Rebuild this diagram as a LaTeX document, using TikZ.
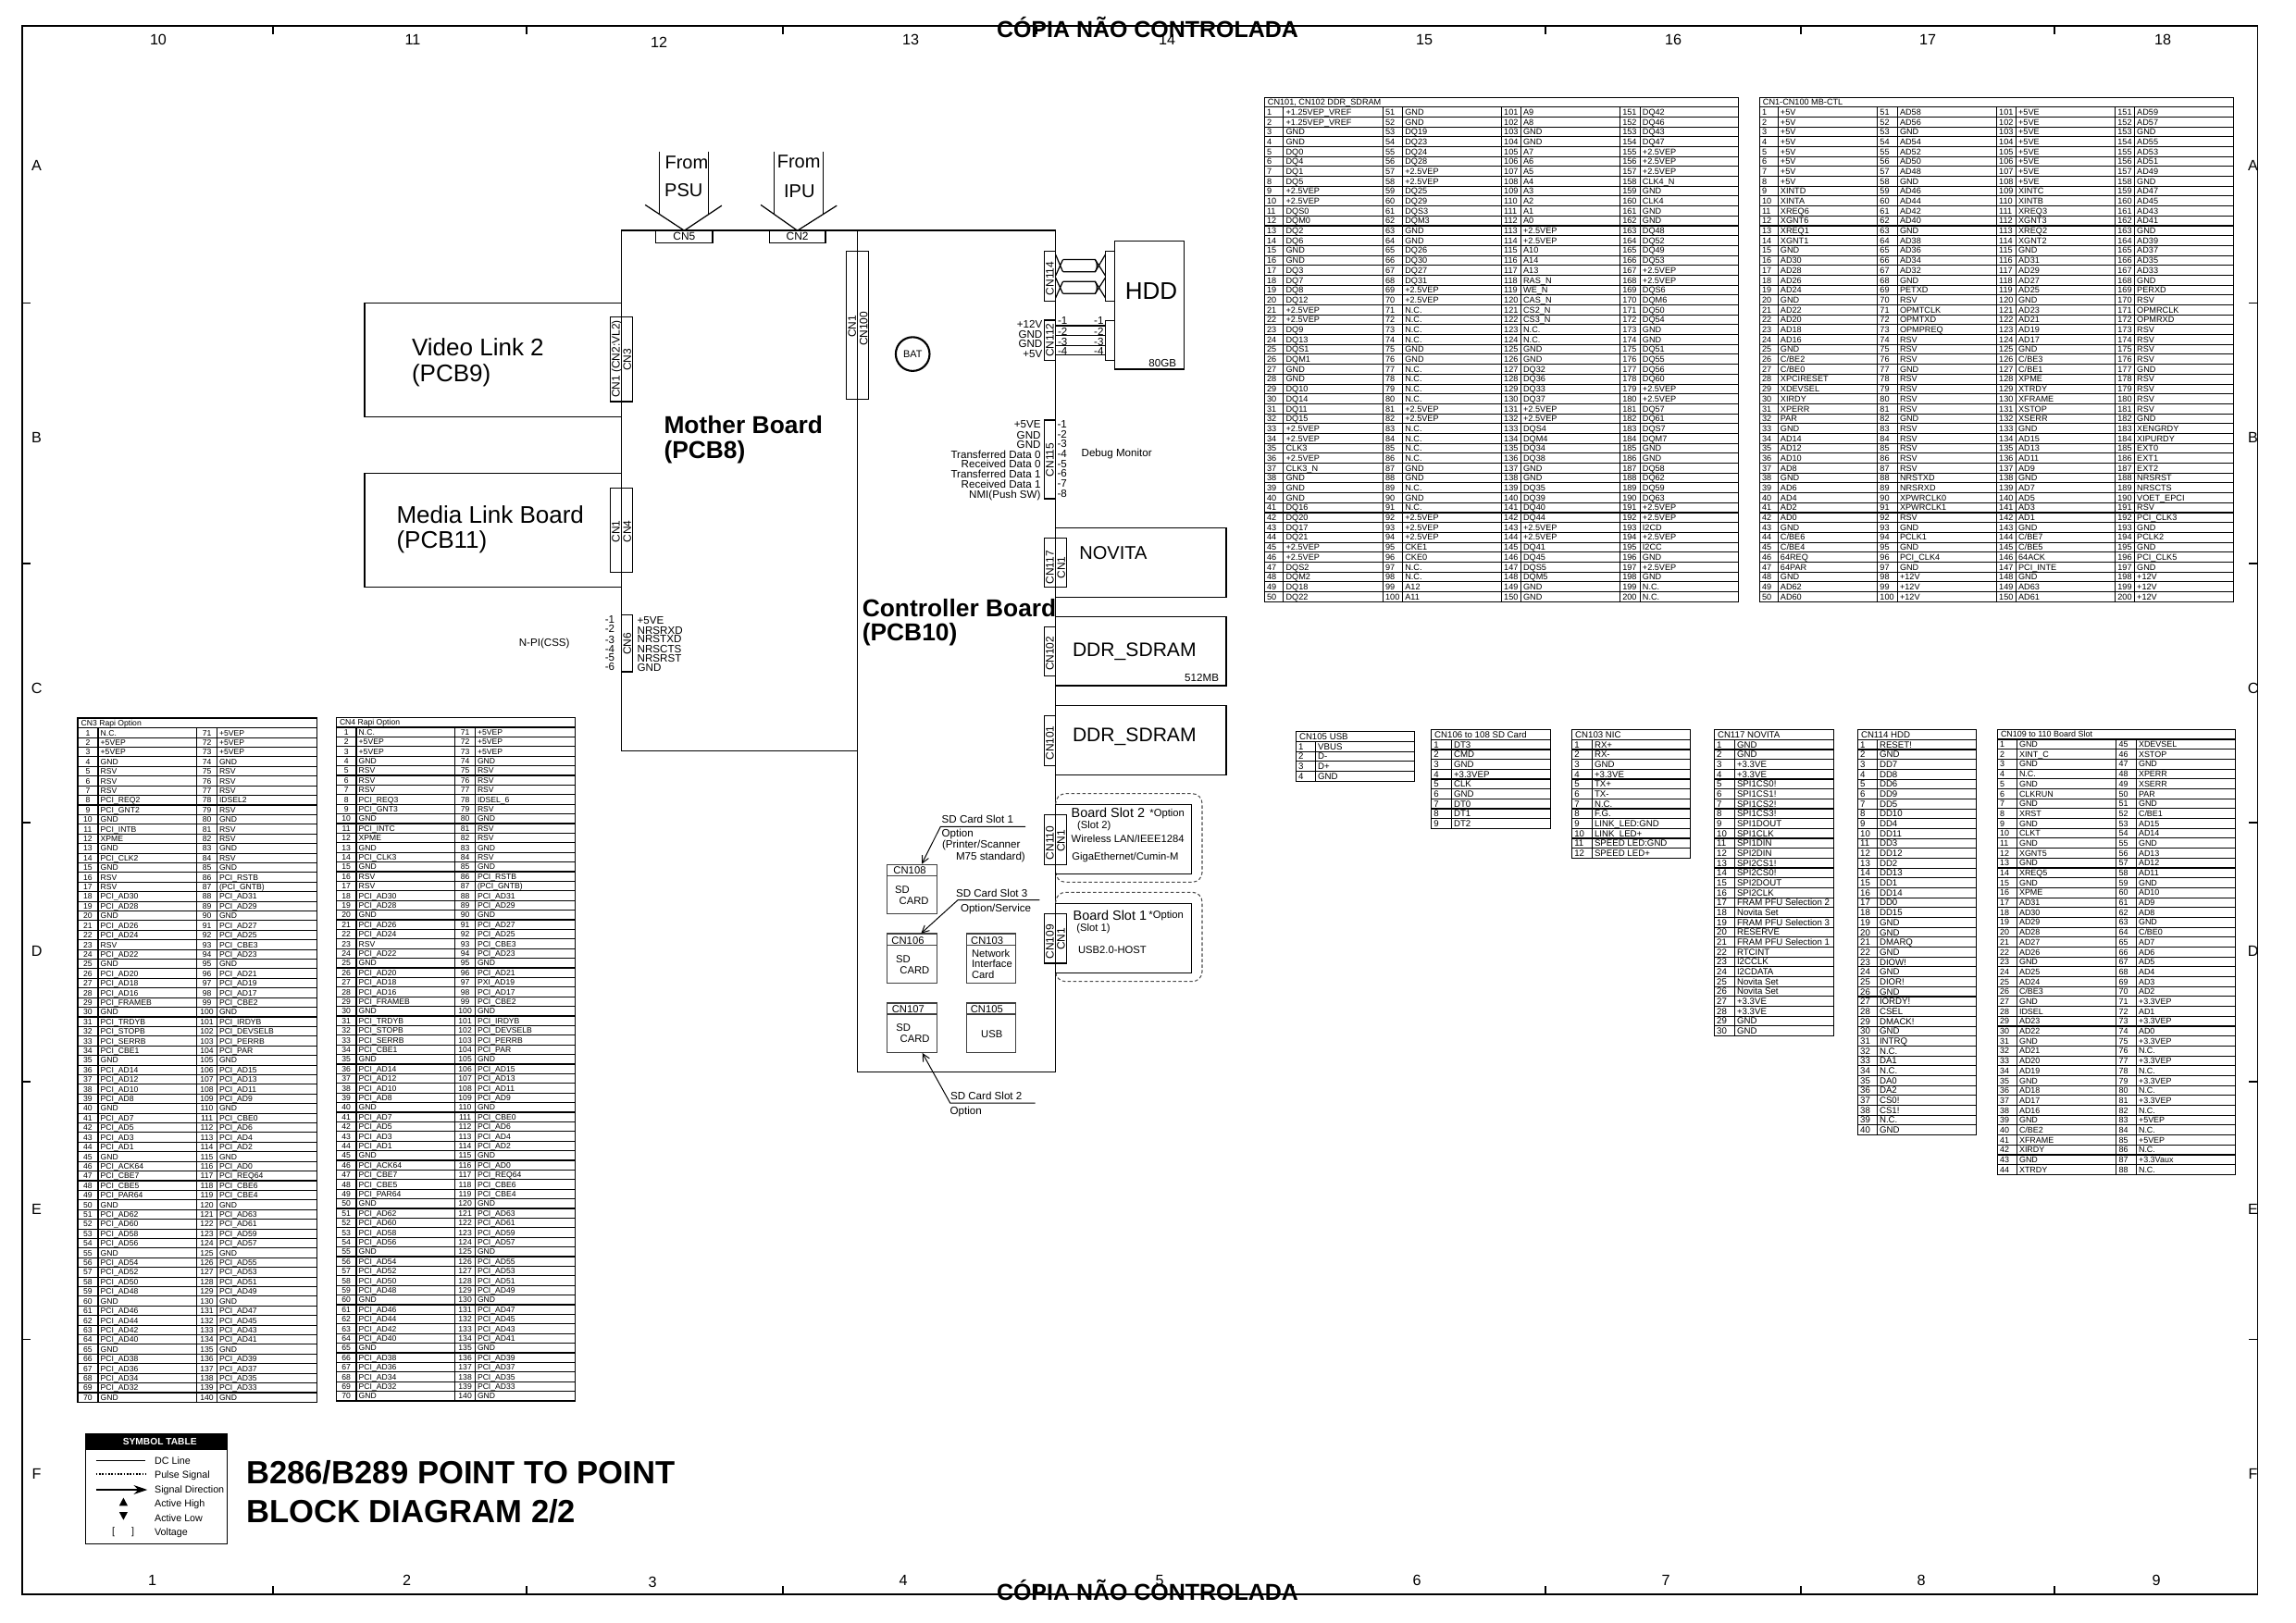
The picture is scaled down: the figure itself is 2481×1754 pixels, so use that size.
\documentclass[tikz,border=0pt]{standalone}
\usepackage{fontspec}
\setmainfont{Liberation Sans}
\usetikzlibrary{arrows.meta}

\tikzset{
  txt/.style={inner sep=0pt,font=\fontsize{#1}{#1}\selectfont,text height=.716*#1pt,text depth=0pt},
  txtb/.style={txt=#1,font=\fontsize{#1}{#1}\selectfont\bfseries},
  pinline/.style={line width=.3pt},
  pintext/.style={txt=2.6},
  numleft/.style={pintext,anchor=west,xshift=.6pt},
  numcentre/.style={pintext},
  blockline/.style={line width=.33pt},
  cardline/.style={line width=.4pt,draw=black!75},
  dashbox/.style={line width=.3pt,draw=black!70,dash pattern=on 1pt off .7pt,rounded corners=3pt},
  wire/.style={line width=.35pt},
  leader/.style={line width=.28pt,-{Straight Barb[length=2.2pt,width=2.2pt]}},
  cnv/.style={txt=3.4,rotate=90},
}

% name, x1, y1, x2, y2, text
\newcommand\blockat[7][]{%
  \pgfmathsetmacro\blockw{(#5-#3)*0.284528}%
  \pgfmathsetmacro\blockh{(#6-#4)*0.284528}%
  \node[blockline,draw,inner sep=0pt,outer sep=0pt,minimum width=\blockw pt,minimum height=\blockh pt,#1]
    (#2) at ({(#3+#5)/2},{(#4+#6)/2}) {#7};%
}

% one number column and its label column of a pin table
\newcommand\pincol[9][numleft]{%
  \foreach \lab [count=\pinno from #8] in {#9}{%
    \pgfmathsetmacro\ya{#6+(\pinno-#8)*#7}%
    \pgfmathsetmacro\yb{\ya+#7}%
    \pgfmathsetmacro\ym{\ya+.5*#7}%
    \draw[pinline] (#3,\ya) rectangle (#4,\yb) (#4,\ya) rectangle (#5,\yb);
    \node[#1] (#2-n\pinno) at ({#3},\ym) {\pinno};
    \node[pintext,anchor=west] (#2-l\pinno) at ({#4+2},\ym) {\lab};
  }%
}
% title row of a pin table
\newcommand\pintitle[6]{%
  \draw[pinline] (#2,#3) rectangle (#4,#5);
  \node[pintext,anchor=west] (#1-title) at ({#2+3},{(#3+#5)/2}) {#6};
}

\begin{document}
\begin{tikzpicture}[x=0.01cm,y=-0.01cm,>=Stealth]
\useasboundingbox (0,0) rectangle (2481,1754);
% sheet frame
\draw[line width=.55pt] (24,27.7) rectangle (2439.5,1723);
\foreach \tx in {295,569,846,1120,1397,1670,1946,2220}{
  \draw[line width=.3pt] (\tx,27.7) -- (\tx,37);
  \draw[line width=.3pt] (\tx,1714) -- (\tx,1723);
}
\foreach \ty in {327.5,609,889,1169,1447.5}{
  \draw[line width=.3pt] (24,\ty) -- (33,\ty);
  \draw[line width=.3pt] (2430,\ty) -- (2439.5,\ty);
}
\foreach \lab/\tx/\ty in {10/171/43,11/446/43,12/712/46,13/984/43,14/1261/43,15/1539/43,16/1808/43,17/2083/43,18/2337/43,
  1/164.6/1708,2/439.6/1708,3/705/1710,4/976/1708,5/1253/1708,6/1531/1708,7/1800/1708,8/2076/1708,9/2330/1708}{
  \node[txt=4.6] (zone\lab) at (\tx,\ty) {\lab};
}
\foreach \lab/\ty in {A/178.8,B/473,C/743.5,D/1028,E/1306.7,F/1593}{
  \node[txt=4.6] (zoneL\lab) at (39.6,\ty) {\lab};
  \node[txt=4.6] (zoneR\lab) at (2434.6,\ty) {\lab};
}
\node[txtb=7.1] (stamptop) at (1240,32) {CÓPIA NÃO CONTROLADA};
\node[txtb=7.1] (stampbot) at (1240,1721) {CÓPIA NÃO CONTROLADA};

% boards
\blockat{motherb}{671.5}{249.2}{926.2}{811.3}{}
\blockat{ctlb}{926.2}{249.2}{1140.6}{1158.3}{}
\node[txtb=7.5,anchor=west] (mothertxt) at (716.8,459) {Mother Board};
\node[txtb=7.5,anchor=west] (mothertxtb) at (716.8,486.3) {(PCB8)};
\node[txtb=7.5,anchor=west] (ctltxt) at (931.1,657.3) {Controller Board};
\node[txtb=7.5,anchor=west] (ctltxtb) at (931.1,683.5) {(PCB10)};

% from PSU, from IPU
\blockat[txt=3.4]{cn5}{708.8}{249.2}{770}{262.2}{CN5}
\blockat[txt=3.4]{cn2}{831.3}{249.2}{892}{262.2}{CN2}
\draw[wire] (712.5,163.5) -- (712.5,231.6) (765.2,163.5) -- (765.2,231.6);
\draw[wire] (697.2,221.4) -- (cn5.north) -- (779.9,222.2);
\draw[wire] (836.2,163.5) -- (836.2,231.6) (889.5,163.5) -- (889.5,231.6);
\draw[wire] (822.1,221.4) -- (cn2.north) -- (904.2,222.2);
\node[txt=5.7] (psuone) at (741.9,175.3) {From};
\node[txt=5.7] (psutwo) at (738.8,205) {PSU};
\node[txt=5.7] (ipuone) at (863.2,174.5) {From};
\node[txt=5.7] (iputwo) at (863.8,206) {IPU};

% video link, media link
\blockat{videob}{394.1}{327.6}{671.5}{450.4}{}
\node[txt=7.4,anchor=west] (videotxt) at (444.3,375.3) {Video Link 2};
\node[txt=7.4,anchor=west] (videotxtb) at (444.3,403) {(PCB9)};
\draw[blockline] (659.2,342.2) rectangle (683.7,434);
\node[cnv] (cn1vl) at (665.4,388) {CN1 (CN2:VL2)};
\node[cnv] (cn3) at (677.6,388.8) {CN3};
\blockat{mediab}{394.1}{511.2}{671.5}{634.5}{}
\node[txt=7.4,anchor=west] (mediatxt) at (427.8,556) {Media Link Board};
\node[txt=7.4,anchor=west] (mediatxtb) at (427.8,582.7) {(PCB11)};
\draw[blockline] (659.2,527.6) rectangle (683.7,618.6);
\node[cnv] (cn1ml) at (665.4,574.5) {CN1};
\node[cnv] (cn4) at (677.6,574.5) {CN4};

% N-PI connector
\blockat{cn6}{671.5}{664.7}{683.7}{725.9}{}
\node[cnv] (cn6txt) at (677.6,695.7) {CN6};
\foreach \lab/\ty in {-1/669.2,-2/679.8,-3/691.6,-4/701,-5/710,-6/720.2}{
  \node[txt=3.3,anchor=east] (cn6pin\lab) at (664.8,\ty) {\lab};
}
\foreach \lab/\ty in {+5VE/670,NRSRXD/681,NRSTXD/690.8,NRSCTS/701,NRSRST/711.2,GND/721.4}{
  \node[txt=3.3,anchor=west] (cn6\lab) at (688,\ty) {\lab};
}
\node[txt=3.3] (npi) at (588.2,694) {N-PI(CSS)};

% mother to controller
\draw[blockline] (914.6,271.2) rectangle (938.5,431.6);
\node[cnv] (cn1mb) at (920.7,352.9) {CN1};
\node[cnv] (cn100) at (933,355.3) {CN100};
\node[draw,circle,line width=.6pt,minimum size=10.4pt,inner sep=0pt,txt=3.1] (bat) at (986.2,382.6) {BAT};

% HDD
\blockat{cn114}{1128.3}{271.2}{1140.6}{325.1}{}
\node[cnv] (cn114txt) at (1134.4,301) {CN114};
\blockat{hdd}{1204.2}{260.2}{1279.6}{399}{}
\node[txt=7.4] (hddtxt) at (1244,314.5) {HDD};
\node[txt=3.3] (hddsize) at (1256.3,392) {80GB};
\blockat{hddsig}{1194.5}{271.2}{1204.2}{325.1}{}
\draw[wire] (1148.5,280.6) -- (1183.4,280.6) .. controls (1186,284) and (1186,290) .. (1183.4,293.7) -- (1148.5,293.7);
\draw[wire] (1148.5,304.3) -- (1183.4,304.3) .. controls (1186,308) and (1186,314) .. (1183.4,317.3) -- (1148.5,317.3);
\draw[wire] (1140.6,275) -- (1148.5,293.7) (1140.6,298) -- (1148.5,280.6);
\draw[wire] (1140.6,300) -- (1148.5,317.3) (1140.6,322) -- (1148.5,304.3);
\draw[wire] (1183.4,293.7) -- (1194.5,275) (1183.4,280.6) -- (1194.5,298);
\draw[wire] (1183.4,304.3) -- (1194.5,322) (1183.4,317.3) -- (1194.5,300);
\blockat{cn112}{1128.3}{346}{1140.6}{389.2}{}
\node[cnv] (cn112txt) at (1134.4,367.6) {CN112};
\blockat{hddpwr}{1194.5}{346.7}{1204.2}{389.2}{}
\foreach \wy in {352,362.2,373.3,383.5}{
  \draw[wire] (cn112.east |- 0,\wy) -- (hddpwr.west |- 0,\wy);
}
\foreach \lab/\ty in {1/346.7,2/358.6,3/369.2,4/379.4}{
  \node[txt=3.3,anchor=west] (cn112pin\lab) at (1142.4,\ty) {-\lab};
  \node[txt=3.3,anchor=east] (hddpin\lab) at (1193.2,\ty) {-\lab};
}
\node[txt=3.3,anchor=east] (cn112a) at (1127,350.4) {+12V};
\node[txt=3.3,anchor=east] (cn112b) at (1127,361.4) {GND};
\node[txt=3.3,anchor=east] (cn112c) at (1127,371.2) {GND};
\node[txt=3.3,anchor=east] (cn112d) at (1127,382.2) {+5V};

% debug monitor
\blockat{cn115}{1128.3}{454}{1140.6}{539}{}
\node[cnv] (cn115txt) at (1134.4,497) {CN115};
\foreach \lab/\ty in {1/458.2,2/469.2,3/479.4,4/490.4,5/501.4,6/511.6,7/522.2,8/533.3}{
  \node[txt=3.3,anchor=west] (cn115pin\lab) at (1141.8,\ty) {-\lab};
}
\node[txt=3.3,anchor=east] (dbga) at (1125.2,458.6) {+5VE};
\node[txt=3.3,anchor=east] (dbgb) at (1125.2,470) {GND};
\node[txt=3.3,anchor=east] (dbgc) at (1125.2,480.2) {GND};
\node[txt=3.3,anchor=east] (dbgd) at (1125.2,491.2) {Transferred Data 0};
\node[txt=3.3,anchor=east] (dbge) at (1125.2,501.8) {Received Data 0};
\node[txt=3.3,anchor=east] (dbgf) at (1125.2,512.4) {Transferred Data 1};
\node[txt=3.3,anchor=east] (dbgg) at (1125.2,523) {Received Data 1};
\node[txt=3.3,anchor=east] (dbgh) at (1125.2,534) {NMI(Push SW)};
\node[txt=3.3] (dbgtxt) at (1206.7,489.2) {Debug Monitor};

% novita, memory
\blockat{novita}{1140.6}{570.4}{1324.9}{645.5}{}
\node[txt=5.7,anchor=west] (novitatxt) at (1165.7,597) {NOVITA};
\draw[blockline] (1128.3,581.4) rectangle (1152.8,634.9);
\node[cnv] (cn117) at (1134.4,613.3) {CN117};
\node[cnv] (cn1nov) at (1146.7,613.3) {CN1};
\blockat{ddra}{1140.6}{666.3}{1324.9}{741}{}
\node[txt=6,anchor=west] (ddratxt) at (1158.3,702) {DDR\_SDRAM};
\node[txt=3.3] (ddrsize) at (1298.6,732.4) {512MB};
\blockat{cn102}{1128.3}{677.8}{1140.6}{730.4}{}
\node[cnv] (cn102txt) at (1134.4,706.3) {CN102};
\blockat{ddrb}{1140.6}{762.2}{1324.9}{837.3}{}
\node[txt=6,anchor=west] (ddrbtxt) at (1158.3,794) {DDR\_SDRAM};
\blockat{cn101}{1128.3}{773.3}{1140.6}{827.3}{}
\node[cnv] (cn101txt) at (1134.4,803) {CN101};

% board slots
\draw[dashbox] (1140.7,869.3) -- (1140.7,857.7) -- (1299,857.7) -- (1299,953.3) -- (1140.7,953.3) -- (1140.7,945);
\blockat{slottwo}{1140.6}{869.3}{1287.3}{944.3}{}
\node[txt=4.1,anchor=west] (slottwoa) at (1157,878.3) {Board Slot 2};
\node[txt=3.2,anchor=west] (slottwob) at (1241.7,878.3) {*Option};
\node[txt=3.2,anchor=west] (slottwoc) at (1163.3,891.3) {(Slot 2)};
\node[txt=3.2,anchor=west] (slottwod) at (1157,906.3) {Wireless LAN/IEEE1284};
\node[txt=3.2,anchor=west] (slottwoe) at (1157.7,925.3) {GigaEthernet/Cumin-M};
\draw[blockline] (1128.3,880.7) rectangle (1152.3,934.3);
\node[cnv] (cn110) at (1134.3,911) {CN110};
\node[cnv] (cn1two) at (1146.3,908.7) {CN1};
\draw[dashbox] (1140.7,976.3) -- (1140.7,964.3) -- (1299,964.3) -- (1299,1060.7) -- (1140.7,1060.7) -- (1140.7,1051.3);
\blockat{slotone}{1140.6}{976.3}{1287.3}{1051.3}{}
\node[txt=4.1,anchor=west] (slotonea) at (1159,989.3) {Board Slot 1};
\node[txt=3.2,anchor=west] (slotoneb) at (1240.7,988.3) {*Option};
\node[txt=3.2,anchor=west] (slotonec) at (1162.7,1002.3) {(Slot 1)};
\node[txt=3.2,anchor=west] (slotoned) at (1164.3,1026.3) {USB2.0-HOST};
\draw[blockline] (1128.3,987.7) rectangle (1152.3,1041);
\node[cnv] (cn109) at (1134.3,1017.7) {CN109};
\node[cnv] (cn1one) at (1146.3,1015) {CN1};

% cards
\blockat[cardline]{cn108}{958.7}{934.3}{1012.3}{987.3}{}
\draw[cardline] (958.7,946.3) -- (1012.3,946.3);
\node[txt=3.2] (cn108txt) at (983,940.3) {CN108};
\node[txt=3.2,anchor=west] (cardaa) at (966.3,961.3) {SD};
\node[txt=3.2,anchor=west] (cardab) at (971,973.3) {CARD};
\blockat[cardline]{cn106}{958.7}{1009}{1012.3}{1062.3}{}
\draw[cardline] (958.7,1021.3) -- (1012.3,1021.3);
\node[txt=3.2] (cn106txt) at (981,1016) {CN106};
\node[txt=3.2,anchor=west] (cardba) at (967.3,1036) {SD};
\node[txt=3.2,anchor=west] (cardbb) at (971.7,1048) {CARD};
\blockat[cardline]{cn103}{1044.3}{1009}{1097.3}{1062.3}{}
\draw[cardline] (1044.3,1021.3) -- (1097.3,1021.3);
\node[txt=3.2] (cn103txt) at (1066.7,1016) {CN103};
\node[txt=3.2,anchor=west] (nica) at (1049.3,1030.3) {Network};
\node[txt=3.2,anchor=west] (nicb) at (1049.3,1041.7) {Interface};
\node[txt=3.2,anchor=west] (nicc) at (1049.3,1053.3) {Card};
\blockat[cardline]{cn107}{958.7}{1084}{1012.3}{1137.3}{}
\draw[cardline] (958.7,1096) -- (1012.3,1096);
\node[txt=3.2] (cn107txt) at (981.3,1090) {CN107};
\node[txt=3.2,anchor=west] (cardca) at (967.7,1110.3) {SD};
\node[txt=3.2,anchor=west] (cardcb) at (972,1122.3) {CARD};
\blockat[cardline]{cn105}{1044.3}{1084}{1097.3}{1137.3}{}
\draw[cardline] (1044.3,1096) -- (1097.3,1096);
\node[txt=3.2] (cn105txt) at (1066.3,1090) {CN105};
\node[txt=3.2] (usbtxt) at (1071.7,1117.3) {USB};

% card slot leaders
\coordinate (lonea) at (1108,893.3);
\coordinate (loneb) at (1016.3,893.3);
\coordinate (lonec) at (996,933.7);
\draw[leader] (lonea) -- (loneb) -- (lonec);
\node[txt=3.3,anchor=west] (lonetxta) at (1017,885.3) {SD Card Slot 1};
\node[txt=3.3,anchor=west] (lonetxtb) at (1017,900.3) {Option};
\node[txt=3.3,anchor=west] (lonetxtc) at (1017.3,912.3) {(Printer/Scanner};
\node[txt=3.3,anchor=west] (lonetxtd) at (1032.3,925.3) {M75 standard)};
\coordinate (lthra) at (1123.3,972.7);
\coordinate (lthrb) at (1035,972.7);
\coordinate (lthrc) at (995.3,1008.7);
\draw[leader] (lthra) -- (lthrb) -- (lthrc);
\node[txt=3.3,anchor=west] (lthrtxta) at (1032.3,965.3) {SD Card Slot 3};
\node[txt=3.3,anchor=west] (lthrtxtb) at (1037.3,981.3) {Option/Service};
\coordinate (ltwoa) at (1118.7,1192);
\coordinate (ltwob) at (1026.7,1192);
\coordinate (ltwoc) at (996.7,1138);
\draw[leader] (ltwoa) -- (ltwob) -- (ltwoc);
\node[txt=3.3,anchor=west] (ltwotxta) at (1026.3,1184.3) {SD Card Slot 2};
\node[txt=3.3,anchor=west] (ltwotxtb) at (1026,1200.3) {Option};

% CN101, CN102 table
\pintitle{ddrt}{1366.2}{105.4}{1878.2}{115.7}{CN101, CN102 DDR\_SDRAM}
\pincol{ddrt}{1366.2}{1386.9}{1494.3}{115.7}{10.69}{1}{+1.25VEP\_VREF,+1.25VEP\_VREF,GND,GND,DQ0,DQ4,DQ1,DQ5,+2.5VEP,+2.5VEP,DQS0,DQM0,DQ2,DQ6,GND,GND,DQ3,DQ7,DQ8,DQ12,+2.5VEP,+2.5VEP,DQ9,DQ13,DQS1,DQM1,GND,GND,DQ10,DQ14,DQ11,DQ15,+2.5VEP,+2.5VEP,CLK3,+2.5VEP,CLK3\_N,GND,GND,GND,DQ16,DQ20,DQ17,DQ21,+2.5VEP,+2.5VEP,DQS2,DQM2,DQ18,DQ22}
\pincol{ddrt}{1494.3}{1515.6}{1622.4}{115.7}{10.69}{51}{GND,GND,DQ19,DQ23,DQ24,DQ28,+2.5VEP,+2.5VEP,DQ25,DQ29,DQS3,DQM3,GND,GND,DQ26,DQ30,DQ27,DQ31,+2.5VEP,+2.5VEP,N.C.,N.C.,N.C.,N.C.,GND,GND,N.C.,N.C.,N.C.,N.C.,+2.5VEP,+2.5VEP,N.C.,N.C.,N.C.,N.C.,GND,GND,N.C.,GND,N.C.,+2.5VEP,+2.5VEP,+2.5VEP,CKE1,CKE0,N.C.,N.C.,A12,A11}
\pincol{ddrt}{1622.4}{1643.4}{1750.5}{115.7}{10.69}{101}{A9,A8,GND,GND,A7,A6,A5,A4,A3,A2,A1,A0,+2.5VEP,+2.5VEP,A10,A14,A13,RAS\_N,WE\_N,CAS\_N,CS2\_N,CS3\_N,N.C.,N.C.,GND,GND,DQ32,DQ36,DQ33,DQ37,+2.5VEP,+2.5VEP,DQS4,DQM4,DQ34,DQ38,GND,GND,DQ35,DQ39,DQ40,DQ44,+2.5VEP,+2.5VEP,DQ41,DQ45,DQS5,DQM5,GND,GND}
\pincol{ddrt}{1750.5}{1772.2}{1878.2}{115.7}{10.69}{151}{DQ42,DQ46,DQ43,DQ47,+2.5VEP,+2.5VEP,+2.5VEP,CLK4\_N,GND,CLK4,GND,GND,DQ48,DQ52,DQ49,DQ53,+2.5VEP,+2.5VEP,DQS6,DQM6,DQ50,DQ54,GND,GND,DQ51,DQ55,DQ56,DQ60,+2.5VEP,+2.5VEP,DQ57,DQ61,DQS7,DQM7,GND,GND,DQ58,DQ62,DQ59,DQ63,+2.5VEP,+2.5VEP,I2CD,+2.5VEP,I2CC,GND,+2.5VEP,GND,N.C.,N.C.}

% CN1-CN100 table
\pintitle{mbt}{1901.2}{105.4}{2413.2}{115.7}{CN1-CN100 MB-CTL}
\pincol{mbt}{1901.2}{1921.2}{2028.6}{115.7}{10.69}{1}{+5V,+5V,+5V,+5V,+5V,+5V,+5V,+5V,XINTD,XINTA,XREQ6,XGNT6,XREQ1,XGNT1,GND,AD30,AD28,AD26,AD24,GND,AD22,AD20,AD18,AD16,GND,C/BE2,C/BE0,XPCIRESET,XDEVSEL,XIRDY,XPERR,PAR,GND,AD14,AD12,AD10,AD8,GND,AD6,AD4,AD2,AD0,GND,C/BE6,C/BE4,64REQ,64PAR,GND,AD62,AD60}
\pincol{mbt}{2028.6}{2050.3}{2157.4}{115.7}{10.69}{51}{AD58,AD56,GND,AD54,AD52,AD50,AD48,GND,AD46,AD44,AD42,AD40,GND,AD38,AD36,AD34,AD32,GND,PETXD,RSV,OPMTCLK,OPMTXD,OPMPREQ,RSV,RSV,RSV,GND,RSV,RSV,RSV,RSV,GND,RSV,RSV,RSV,RSV,RSV,NRSTXD,NRSRXD,XPWRCLK0,XPWRCLK1,RSV,GND,PCLK1,GND,PCI\_CLK4,GND,+12V,+12V,+12V}
\pincol{mbt}{2157.4}{2178.4}{2285.5}{115.7}{10.69}{101}{+5VE,+5VE,+5VE,+5VE,+5VE,+5VE,+5VE,+5VE,XINTC,XINTB,XREQ3,XGNT3,XREQ2,XGNT2,GND,AD31,AD29,AD27,AD25,GND,AD23,AD21,AD19,AD17,GND,C/BE3,C/BE1,XPME,XTRDY,XFRAME,XSTOP,XSERR,GND,AD15,AD13,AD11,AD9,GND,AD7,AD5,AD3,AD1,GND,C/BE7,C/BE5,64ACK,PCI\_INTE,GND,AD63,AD61}
\pincol{mbt}{2285.5}{2306.5}{2413.2}{115.7}{10.69}{151}{AD59,AD57,GND,AD55,AD53,AD51,AD49,GND,AD47,AD45,AD43,AD41,GND,AD39,AD37,AD35,AD33,GND,PERXD,RSV,OPMRCLK,OPMRXD,RSV,RSV,RSV,RSV,GND,RSV,RSV,RSV,RSV,GND,XENGRDY,XIPURDY,EXT0,EXT1,EXT2,NRSRST,NRSCTS,VOET\_EPCI,RSV,PCI\_CLK3,GND,PCLK2,GND,PCI\_CLK5,GND,+12V,+12V,+12V}

% CN3 table
\begin{scope}[pintext/.style={txt=2.45},numcentre/.style={pintext,xshift=3.1pt}]
\pintitle{rapc}{84}{776}{342.7}{786.7}{CN3 Rapi Option}
\pincol[numcentre]{rapc}{84}{106}{212.7}{786.7}{10.41}{1}{N.C.,+5VEP,+5VEP,GND,RSV,RSV,RSV,PCI\_REQ2,PCI\_GNT2,GND,PCI\_INTB,XPME,GND,PCI\_CLK2,GND,RSV,RSV,PCI\_AD30,PCI\_AD28,GND,PCI\_AD26,PCI\_AD24,RSV,PCI\_AD22,GND,PCI\_AD20,PCI\_AD18,PCI\_AD16,PCI\_FRAMEB,GND,PCI\_TRDYB,PCI\_STOPB,PCI\_SERRB,PCI\_CBE1,GND,PCI\_AD14,PCI\_AD12,PCI\_AD10,PCI\_AD8,GND,PCI\_AD7,PCI\_AD5,PCI\_AD3,PCI\_AD1,GND,PCI\_ACK64,PCI\_CBE7,PCI\_CBE5,PCI\_PAR64,GND,PCI\_AD62,PCI\_AD60,PCI\_AD58,PCI\_AD56,GND,PCI\_AD54,PCI\_AD52,PCI\_AD50,PCI\_AD48,GND,PCI\_AD46,PCI\_AD44,PCI\_AD42,PCI\_AD40,GND,PCI\_AD38,PCI\_AD36,PCI\_AD34,PCI\_AD32,GND}
\pincol[numcentre]{rapc}{212.7}{234.3}{342.7}{786.7}{10.41}{71}{+5VEP,+5VEP,+5VEP,GND,RSV,RSV,RSV,IDSEL2,RSV,GND,RSV,RSV,GND,RSV,GND,PCI\_RSTB,{(PCI\_GNTB)},PCI\_AD31,PCI\_AD29,GND,PCI\_AD27,PCI\_AD25,PCI\_CBE3,PCI\_AD23,GND,PCI\_AD21,PCI\_AD19,PCI\_AD17,PCI\_CBE2,GND,PCI\_IRDYB,PCI\_DEVSELB,PCI\_PERRB,PCI\_PAR,GND,PCI\_AD15,PCI\_AD13,PCI\_AD11,PCI\_AD9,GND,PCI\_CBE0,PCI\_AD6,PCI\_AD4,PCI\_AD2,GND,PCI\_AD0,PCI\_REQ64,PCI\_CBE6,PCI\_CBE4,GND,PCI\_AD63,PCI\_AD61,PCI\_AD59,PCI\_AD57,GND,PCI\_AD55,PCI\_AD53,PCI\_AD51,PCI\_AD49,GND,PCI\_AD47,PCI\_AD45,PCI\_AD43,PCI\_AD41,GND,PCI\_AD39,PCI\_AD37,PCI\_AD35,PCI\_AD33,GND}
\end{scope}

% CN4 table
\begin{scope}[pintext/.style={txt=2.45},numcentre/.style={pintext,xshift=3.1pt}]
\pintitle{rapd}{363.3}{775.3}{621.7}{786}{CN4 Rapi Option}
\pincol[numcentre]{rapd}{363.3}{385}{491.7}{786}{10.4}{1}{N.C.,+5VEP,+5VEP,GND,RSV,RSV,RSV,PCI\_REQ3,PCI\_GNT3,GND,PCI\_INTC,XPME,GND,PCI\_CLK3,GND,RSV,RSV,PCI\_AD30,PCI\_AD28,GND,PCI\_AD26,PCI\_AD24,RSV,PCI\_AD22,GND,PCI\_AD20,PCI\_AD18,PCI\_AD16,PCI\_FRAMEB,GND,PCI\_TRDYB,PCI\_STOPB,PCI\_SERRB,PCI\_CBE1,GND,PCI\_AD14,PCI\_AD12,PCI\_AD10,PCI\_AD8,GND,PCI\_AD7,PCI\_AD5,PCI\_AD3,PCI\_AD1,GND,PCI\_ACK64,PCI\_CBE7,PCI\_CBE5,PCI\_PAR64,GND,PCI\_AD62,PCI\_AD60,PCI\_AD58,PCI\_AD56,GND,PCI\_AD54,PCI\_AD52,PCI\_AD50,PCI\_AD48,GND,PCI\_AD46,PCI\_AD44,PCI\_AD42,PCI\_AD40,GND,PCI\_AD38,PCI\_AD36,PCI\_AD34,PCI\_AD32,GND}
\pincol[numcentre]{rapd}{491.7}{513.3}{621.7}{786}{10.4}{71}{+5VEP,+5VEP,+5VEP,GND,RSV,RSV,RSV,IDSEL\_6,RSV,GND,RSV,RSV,GND,RSV,GND,PCI\_RSTB,{(PCI\_GNTB)},PCI\_AD31,PCI\_AD29,GND,PCI\_AD27,PCI\_AD25,PCI\_CBE3,PCI\_AD23,GND,PCI\_AD21,PXI\_AD19,PCI\_AD17,PCI\_CBE2,GND,PCI\_IRDYB,PCI\_DEVSELB,PCI\_PERRB,PCI\_PAR,GND,PCI\_AD15,PCI\_AD13,PCI\_AD11,PCI\_AD9,GND,PCI\_CBE0,PCI\_AD6,PCI\_AD4,PCI\_AD2,GND,PCI\_AD0,PCI\_REQ64,PCI\_CBE6,PCI\_CBE4,GND,PCI\_AD63,PCI\_AD61,PCI\_AD59,PCI\_AD57,GND,PCI\_AD55,PCI\_AD53,PCI\_AD51,PCI\_AD49,GND,PCI\_AD47,PCI\_AD45,PCI\_AD43,PCI\_AD41,GND,PCI\_AD39,PCI\_AD37,PCI\_AD35,PCI\_AD33,GND}
\end{scope}

% connector tables, middle row
\begin{scope}[pintext/.style={txt=2.75}]
\pintitle{usbt}{1400.3}{790.3}{1528.5}{801.3}{CN105 USB}
\pincol{usbt}{1400.3}{1421.4}{1528.5}{801.3}{10.75}{1}{VBUS,D-,D+,GND}
\pintitle{sdt}{1546.5}{788.3}{1675.5}{799.3}{CN106 to 108 SD Card}
\pincol{sdt}{1546.5}{1568.3}{1675.5}{799.3}{10.67}{1}{DT3,CMD,GND,+3.3VEP,CLK,GND,DT0,DT1,DT2}
\pintitle{nict}{1698.5}{788.3}{1826.7}{799.3}{CN103 NIC}
\pincol{nict}{1698.5}{1720.3}{1826.7}{799.3}{10.67}{1}{RX+,RX-,GND,+3.3VE,TX+,TX-,N.C.,F.G.,LINK\_LED:GND,LINK\_LED+,SPEED LED:GND,SPEED LED+}
\pintitle{novt}{1852.3}{788.3}{1981.7}{799.3}{CN117 NOVITA}
\pincol{novt}{1852.3}{1874.3}{1981.7}{799.3}{10.67}{1}{GND,GND,+3.3VE,+3.3VE,SPI1CS0!,SPI1CS1!,SPI1CS2!,SPI1CS3!,SPI1DOUT,SPI1CLK,SPI1DIN,SPI2DIN,SPI2CS1!,SPI2CS0!,SPI2DOUT,SPI2CLK,FRAM PFU Selection 2,Novita Set,FRAM PFU Selection 3,RESERVE,FRAM PFU Selection 1,RTCINT,I2CCLK,I2CDATA,Novita Set,Novita Set,+3.3VE,+3.3VE,GND,GND}
\pintitle{hddt}{2007.3}{788.3}{2135.7}{799.3}{CN114 HDD}
\pincol{hddt}{2007.3}{2028.3}{2135.7}{799.3}{10.68}{1}{RESET!,GND,DD7,DD8,DD6,DD9,DD5,DD10,DD4,DD11,DD3,DD12,DD2,DD13,DD1,DD14,DD0,DD15,GND,GND,DMARQ,GND,DIOW!,GND,DIOR!,GND,IORDY!,CSEL,DMACK!,GND,INTRQ,N.C.,DA1,N.C.,DA0,DA2,CS0!,CS1!,N.C.,GND}
\end{scope}

% CN109 to 110 table
\begin{scope}[pintext/.style={txt=2.55}]
\pintitle{slott}{2158.3}{788.3}{2415.7}{799}{CN109 to 110 Board Slot}
\pincol{slott}{2158.3}{2179.3}{2286.7}{799}{10.69}{1}{GND,XINT\_C,GND,N.C.,GND,CLKRUN,GND,XRST,GND,CLKT,GND,XGNT5,GND,XREQ5,GND,XPME,AD31,AD30,AD29,AD28,AD27,AD26,GND,AD25,AD24,C/BE3,GND,IDSEL,AD23,AD22,GND,AD21,AD20,AD19,GND,AD18,AD17,AD16,GND,C/BE2,XFRAME,XIRDY,GND,XTRDY}
\pincol{slott}{2286.7}{2308.3}{2415.7}{799}{10.69}{45}{XDEVSEL,XSTOP,GND,XPERR,XSERR,PAR,GND,C/BE1,AD15,AD14,GND,AD13,AD12,AD11,GND,AD10,AD9,AD8,GND,C/BE0,AD7,AD6,AD5,AD4,AD3,AD2,+3.3VEP,AD1,+3.3VEP,AD0,+3.3VEP,N.C.,+3.3VEP,N.C.,+3.3VEP,N.C.,+3.3VEP,N.C.,+5VEP,N.C.,+5VEP,N.C.,+3.3Vaux,N.C.}
\end{scope}

% symbol table
\blockat{legend}{92.3}{1549.3}{245.4}{1668.3}{}
\blockat[fill=black]{leghead}{92.3}{1549.3}{245.4}{1566.7}{}
\node[txtb=2.9,text=white] (legtitle) at (172.7,1557.7) {SYMBOL TABLE};
\coordinate (dca) at (103.5,1578.3);
\coordinate (dcb) at (157,1578.3);
\coordinate (pula) at (103.5,1593.3);
\coordinate (pulb) at (157,1593.3);
\coordinate (siga) at (103.5,1610);
\coordinate (sigb) at (159.3,1610);
\draw[line width=.4pt] (dca) -- (dcb);
\draw[line width=.5pt,dash pattern=on .5pt off .45pt] (pula) -- (pulb);
\draw[line width=.45pt,-{Stealth[length=4.2pt,width=2.8pt]}] (siga) -- (sigb);
\fill (133.4,1618.6) -- (128.8,1627.3) -- (138,1627.3) -- cycle;
\fill (133.4,1642.6) -- (128.8,1634) -- (138,1634) -- cycle;
\node[txt=3.05] (volta) at (122.7,1655) {[};
\node[txt=3.05] (voltb) at (143.7,1655) {]};
\node[txt=3.05,anchor=west] (legdc) at (166.4,1578.7) {DC Line};
\node[txt=3.05,anchor=west] (legpul) at (166.4,1593.7) {Pulse Signal};
\node[txt=3.05,anchor=west] (legsig) at (166.4,1610) {Signal Direction};
\node[txt=3.05,anchor=west] (leghigh) at (166.4,1625) {Active High};
\node[txt=3.05,anchor=west] (leglow) at (166.4,1640.7) {Active Low};
\node[txt=3.05,anchor=west] (legvolt) at (166.4,1656) {Voltage};

% sheet title
\node[txtb=9.85,anchor=west] (titleone) at (265.5,1591) {B286/B289 POINT TO POINT};
\node[txtb=9.85,anchor=west] (titletwo) at (265.5,1633) {BLOCK DIAGRAM 2/2};
\end{tikzpicture}
\end{document}
